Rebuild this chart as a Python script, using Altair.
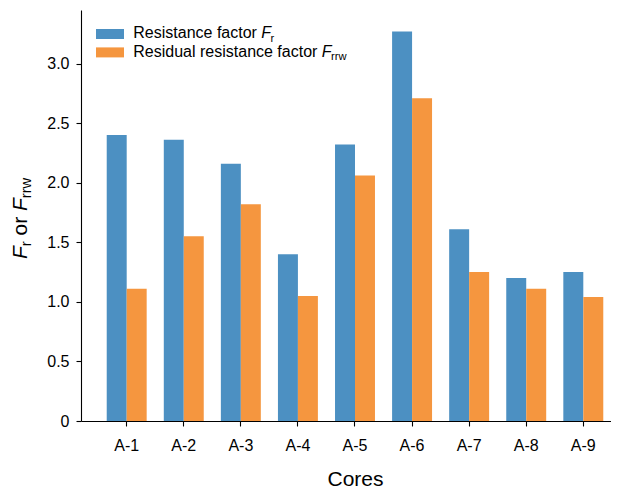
import altair as alt
import pandas as pd

# ---------------- data ----------------
cores = ["A-1", "A-2", "A-3", "A-4", "A-5", "A-6", "A-7", "A-8", "A-9"]
resistance = [2.40, 2.36, 2.16, 1.40, 2.32, 3.27, 1.61, 1.20, 1.25]
residual = [1.11, 1.55, 1.82, 1.05, 2.06, 2.71, 1.25, 1.11, 1.04]
series = ["Resistance factor", "Residual resistance factor"]
legend_main = ["Resistance factor", "Residual resistance factor"]
legend_sub = ["r", "rrw"]
y_ticks = [0, 0.5, 1.0, 1.5, 2.0, 2.5, 3.0]
x_title = "Cores"
# (text, style, is_subscript, space_before_em)
y_title_parts = [("F", "italic", False, 0), ("r", "normal", True, 0), ("or", "normal", False, 0.278),
                 ("F", "italic", False, 0.278), ("rrw", "normal", True, 0)]

colors = ["#4c90c2", "#f5963f"]
FONT = "Liberation Sans"

df = pd.DataFrame({
    "core": cores * 2,
    "series": [series[0]] * len(cores) + [series[1]] * len(cores),
    "value": resistance + residual,
})

W, H = 530, 411
# Arial-like advance widths (em)
AW = {"F": .611, "r": .333, "w": .722, " ": .278, "o": .556, "R": .722, "e": .556, "s": .5,
      "i": .222, "t": .278, "a": .556, "n": .556, "c": .5, "f": .278, "d": .556, "u": .556, "l": .222}


def tw(s, size):
    return sum(AW.get(ch, .55) for ch in s) * size


color_scale = alt.Scale(domain=series, range=colors)

bars = alt.Chart(df).mark_bar(opacity=1).encode(
    x=alt.X("core:N", sort=cores,
            scale=alt.Scale(paddingInner=0.3, paddingOuter=0.293, align=0.769),
            axis=alt.Axis(title=x_title, labelAngle=0, labelFontSize=16, labelPadding=11,
                          tickSize=5, titleFontSize=21, titleFontWeight="normal",
                          titleX=274, titleY=64, titleBaseline="alphabetic")),
    xOffset=alt.XOffset("series:N", sort=series, scale=alt.Scale(paddingInner=0, paddingOuter=0)),
    y=alt.Y("value:Q", scale=alt.Scale(domain=[0, 3.45], nice=False, zero=True),
            axis=alt.Axis(title=None, values=y_ticks, labelFontSize=16, labelPadding=7,
                          tickSize=5,
                          labelExpr="datum.value == 0 ? '0' : format(datum.value, '.1f')")),
    color=alt.Color("series:N", scale=color_scale, legend=None),
)

one = alt.Data(values=[{"k": 1}])
layers = [bars]

# ---------------- custom legend ----------------
leg_fs = 16
row_base = [28.3, 46.7]
for i, s in enumerate(series):
    b = row_base[i]
    layers.append(alt.Chart(alt.Data(values=[{"series": s}])).mark_rect().encode(
        x=alt.value(15), x2=alt.value(43), y=alt.value(b - 9.3), y2=alt.value(b + 0.7),
        color=alt.Color("series:N", scale=color_scale, legend=None)))
    x0 = 52.3
    layers.append(alt.Chart(one).mark_text(align="left", baseline="alphabetic", fontSize=leg_fs,
                                           font=FONT, color="black", text=legend_main[i]).encode(
        x=alt.value(x0), y=alt.value(b)))
    xf = x0 + tw(legend_main[i] + " ", leg_fs)
    layers.append(alt.Chart(one).mark_text(align="left", baseline="alphabetic", fontSize=leg_fs,
                                           font=FONT, fontStyle="italic", color="black", text="F").encode(
        x=alt.value(xf), y=alt.value(b)))
    layers.append(alt.Chart(one).mark_text(align="left", baseline="alphabetic", fontSize=leg_fs * 0.7,
                                           font=FONT, color="black", text=legend_sub[i]).encode(
        x=alt.value(xf + tw("F", leg_fs) - 0.5), y=alt.value(b + 3.5)))

# ---------------- custom y title ----------------
yt_fs = 21
sub_fs = yt_fs * 0.7
sizes = [sub_fs if p[2] else yt_fs for p in y_title_parts]
total = sum(tw(t, sz) + sp * yt_fs for (t, _, _, sp), sz in zip(y_title_parts, sizes)) + 0.278 * yt_fs
pos = H / 2 + total / 2
for (t, style, sub, sp), sz in zip(y_title_parts, sizes):
    pos -= sp * yt_fs
    layers.append(alt.Chart(one).mark_text(align="left", baseline="alphabetic", fontSize=sz, angle=270,
                                           font=FONT, fontStyle=style, color="black", text=t).encode(
        x=alt.value(-54.3 + (4.2 if sub else 0)), y=alt.value(pos)))
    pos -= tw(t, sz)

chart = alt.layer(*layers).properties(
    width=W, height=H,
    autosize=alt.AutoSizeParams(type="none"),
    padding={"left": 73, "top": 2, "right": 0, "bottom": 67},
).configure_view(stroke=None).configure_axis(
    grid=False, domainColor="black", tickColor="black", labelColor="black", titleColor="black",
    labelFont=FONT, titleFont=FONT, domainWidth=1.1, tickWidth=1.1,
)

chart.save("out.html", embed_options={"renderer": "svg", "actions": False})
